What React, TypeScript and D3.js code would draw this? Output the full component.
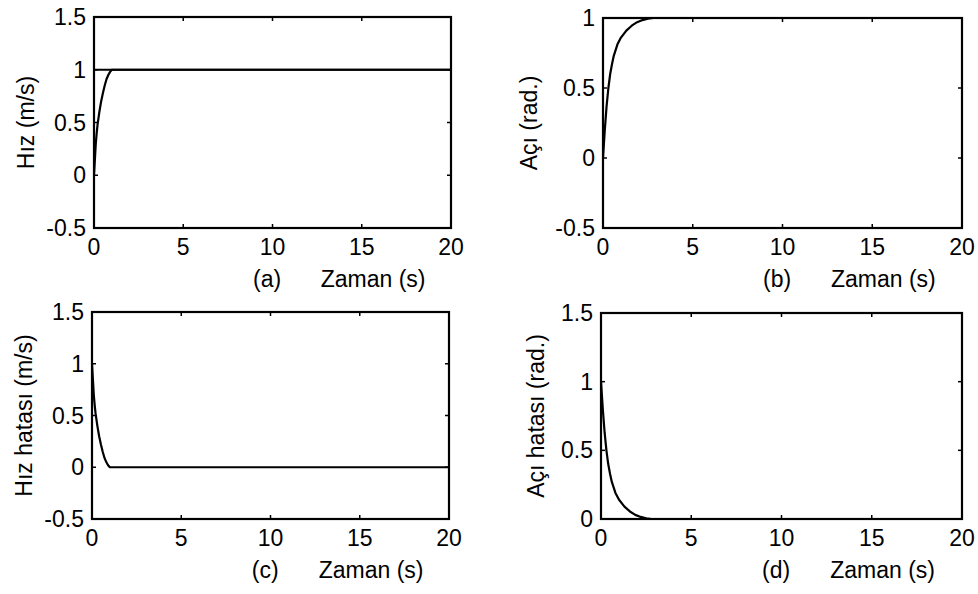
import React from "react";
import * as d3 from "d3";

// Time samples (s) for the speed response and its error
const speedTime = [0, 0.05, 0.1, 0.15, 0.2, 0.3, 0.4, 0.5, 0.6, 0.7, 0.8, 0.9, 1.0, 1.2, 20];
const speedValues = [0, 0.15, 0.3, 0.4, 0.48, 0.6, 0.7, 0.78, 0.85, 0.91, 0.95, 0.98, 1.0, 1.0, 1.0];
const speedErrorValues = [1, 0.85, 0.7, 0.6, 0.52, 0.4, 0.3, 0.22, 0.15, 0.09, 0.05, 0.02, 0, 0, 0];

// Desired speed (m/s)
const speedRefTime = [0, 20];
const speedRefValues = [1, 1];

// Time samples (s) for the heading angle response and its error
const angleTime = [0, 0.1, 0.2, 0.3, 0.4, 0.5, 0.6, 0.8, 1.0, 1.3, 1.6, 1.9, 2.2, 2.5, 2.8, 20];
const angleValues = [0, 0.2, 0.37, 0.5, 0.6, 0.67, 0.73, 0.81, 0.86, 0.91, 0.945, 0.97, 0.985, 0.995, 1, 1];
const angleErrorValues = [1, 0.8, 0.63, 0.5, 0.4, 0.33, 0.27, 0.19, 0.14, 0.09, 0.055, 0.03, 0.015, 0.005, 0, 0];

const xTicks = [0, 5, 10, 15, 20];
const yTicksFull = [-0.5, 0, 0.5, 1, 1.5];
const yTicksAngle = [-0.5, 0, 0.5, 1];
const yTicksAngleErr = [0, 0.5, 1, 1.5];

const panelTags = ["(a)", "(b)", "(c)", "(d)"];
const yLabels = ["Hız (m/s)", "Açı (rad.)", "Hız hatası (m/s)", "Açı hatası (rad.)"];
const xLabel = "Zaman (s)";

type Series = { t: number[]; v: number[] };

type Panel = {
  tag: string;
  yLabel: string;
  box: { left: number; top: number; right: number; bottom: number };
  yLabelX: number;
  yDomain: [number, number];
  yTicks: number[];
  series: Series[];
};

const panels: Panel[] = [
  {
    tag: panelTags[0],
    yLabel: yLabels[0],
    box: { left: 94, top: 17, right: 451, bottom: 228 },
    yLabelX: 26,
    yDomain: [-0.5, 1.5],
    yTicks: yTicksFull,
    series: [
      { t: speedRefTime, v: speedRefValues },
      { t: speedTime, v: speedValues },
    ],
  },
  {
    tag: panelTags[1],
    yLabel: yLabels[1],
    box: { left: 603, top: 18, right: 962, bottom: 228 },
    yLabelX: 529,
    yDomain: [-0.5, 1],
    yTicks: yTicksAngle,
    series: [{ t: angleTime, v: angleValues }],
  },
  {
    tag: panelTags[2],
    yLabel: yLabels[2],
    box: { left: 92, top: 312, right: 449, bottom: 519 },
    yLabelX: 24,
    yDomain: [-0.5, 1.5],
    yTicks: yTicksFull,
    series: [{ t: speedTime, v: speedErrorValues }],
  },
  {
    tag: panelTags[3],
    yLabel: yLabels[3],
    box: { left: 601, top: 313, right: 962, bottom: 519 },
    yLabelX: 536,
    yDomain: [0, 1.5],
    yTicks: yTicksAngleErr,
    series: [{ t: angleTime, v: angleErrorValues }],
  },
];

const FONT = "'Liberation Sans', Arial, Helvetica, sans-serif";
const TICK_LEN = 4;

function PanelView({ p, idx }: { p: Panel; idx: number }) {
  const { left, top, right, bottom } = p.box;
  const x = d3.scaleLinear().domain([0, 20]).range([left, right]);
  const y = d3.scaleLinear().domain(p.yDomain).range([bottom, top]);
  const clipId = `clip-${idx}`;
  const width = right - left;

  return (
    <g>
      <defs>
        <clipPath id={clipId}>
          <rect x={left} y={top} width={right - left} height={bottom - top} />
        </clipPath>
      </defs>
      <g clipPath={`url(#${clipId})`}>
        {p.series.map((s, si) => {
          const gen = d3
            .line<number>()
            .x((_, i) => x(s.t[i]))
            .y((d) => y(d));
          return (
            <path
              key={si}
              d={gen(s.v) || ""}
              fill="none"
              stroke="#000"
              strokeWidth={2.2}
              strokeLinejoin="round"
            />
          );
        })}
      </g>
      {/* frame */}
      <rect
        x={left}
        y={top}
        width={right - left}
        height={bottom - top}
        fill="none"
        stroke="#000"
        strokeWidth={2.2}
      />
      {/* x ticks, inward on top and bottom */}
      {xTicks.map((t) => (
        <g key={`xt${t}`}>
          <line x1={x(t)} x2={x(t)} y1={bottom} y2={bottom - TICK_LEN} stroke="#000" strokeWidth={1.5} />
          <line x1={x(t)} x2={x(t)} y1={top} y2={top + TICK_LEN} stroke="#000" strokeWidth={1.5} />
          <text
            x={x(t)}
            y={bottom + 27}
            textAnchor="middle"
            fontFamily={FONT}
            fontSize={23}
            fill="#000"
          >
            {String(t)}
          </text>
        </g>
      ))}
      {/* y ticks, inward on left and right */}
      {p.yTicks.map((v) => (
        <g key={`yt${v}`}>
          <line x1={left} x2={left + TICK_LEN} y1={y(v)} y2={y(v)} stroke="#000" strokeWidth={1.5} />
          <line x1={right} x2={right - TICK_LEN} y1={y(v)} y2={y(v)} stroke="#000" strokeWidth={1.5} />
          <text
            x={left - 8}
            y={y(v)}
            dy="0.35em"
            textAnchor="end"
            fontFamily={FONT}
            fontSize={23}
            fill="#000"
          >
            {String(v)}
          </text>
        </g>
      ))}
      {/* panel tag and x label */}
      <text
        x={left + 0.485 * width}
        y={bottom + 59}
        textAnchor="middle"
        fontFamily={FONT}
        fontSize={23}
        fill="#000"
      >
        {p.tag}
      </text>
      <text
        x={left + 0.635 * width}
        y={bottom + 59}
        textAnchor="start"
        fontFamily={FONT}
        fontSize={23}
        fill="#000"
      >
        {xLabel}
      </text>
      {/* y label */}
      <text
        transform={`translate(${p.yLabelX},${(top + bottom) / 2}) rotate(-90)`}
        dy="0.35em"
        textAnchor="middle"
        fontFamily={FONT}
        fontSize={23}
        fill="#000"
      >
        {p.yLabel}
      </text>
    </g>
  );
}

export default function App() {
  return (
    <svg
      width={978}
      height={594}
      viewBox="0 0 978 594"
      style={{ position: "absolute", left: 0, top: 0, background: "#fff" }}
    >
      <rect x={0} y={0} width={978} height={594} fill="#fff" />
      {panels.map((p, i) => (
        <PanelView key={i} p={p} idx={i} />
      ))}
    </svg>
  );
}
